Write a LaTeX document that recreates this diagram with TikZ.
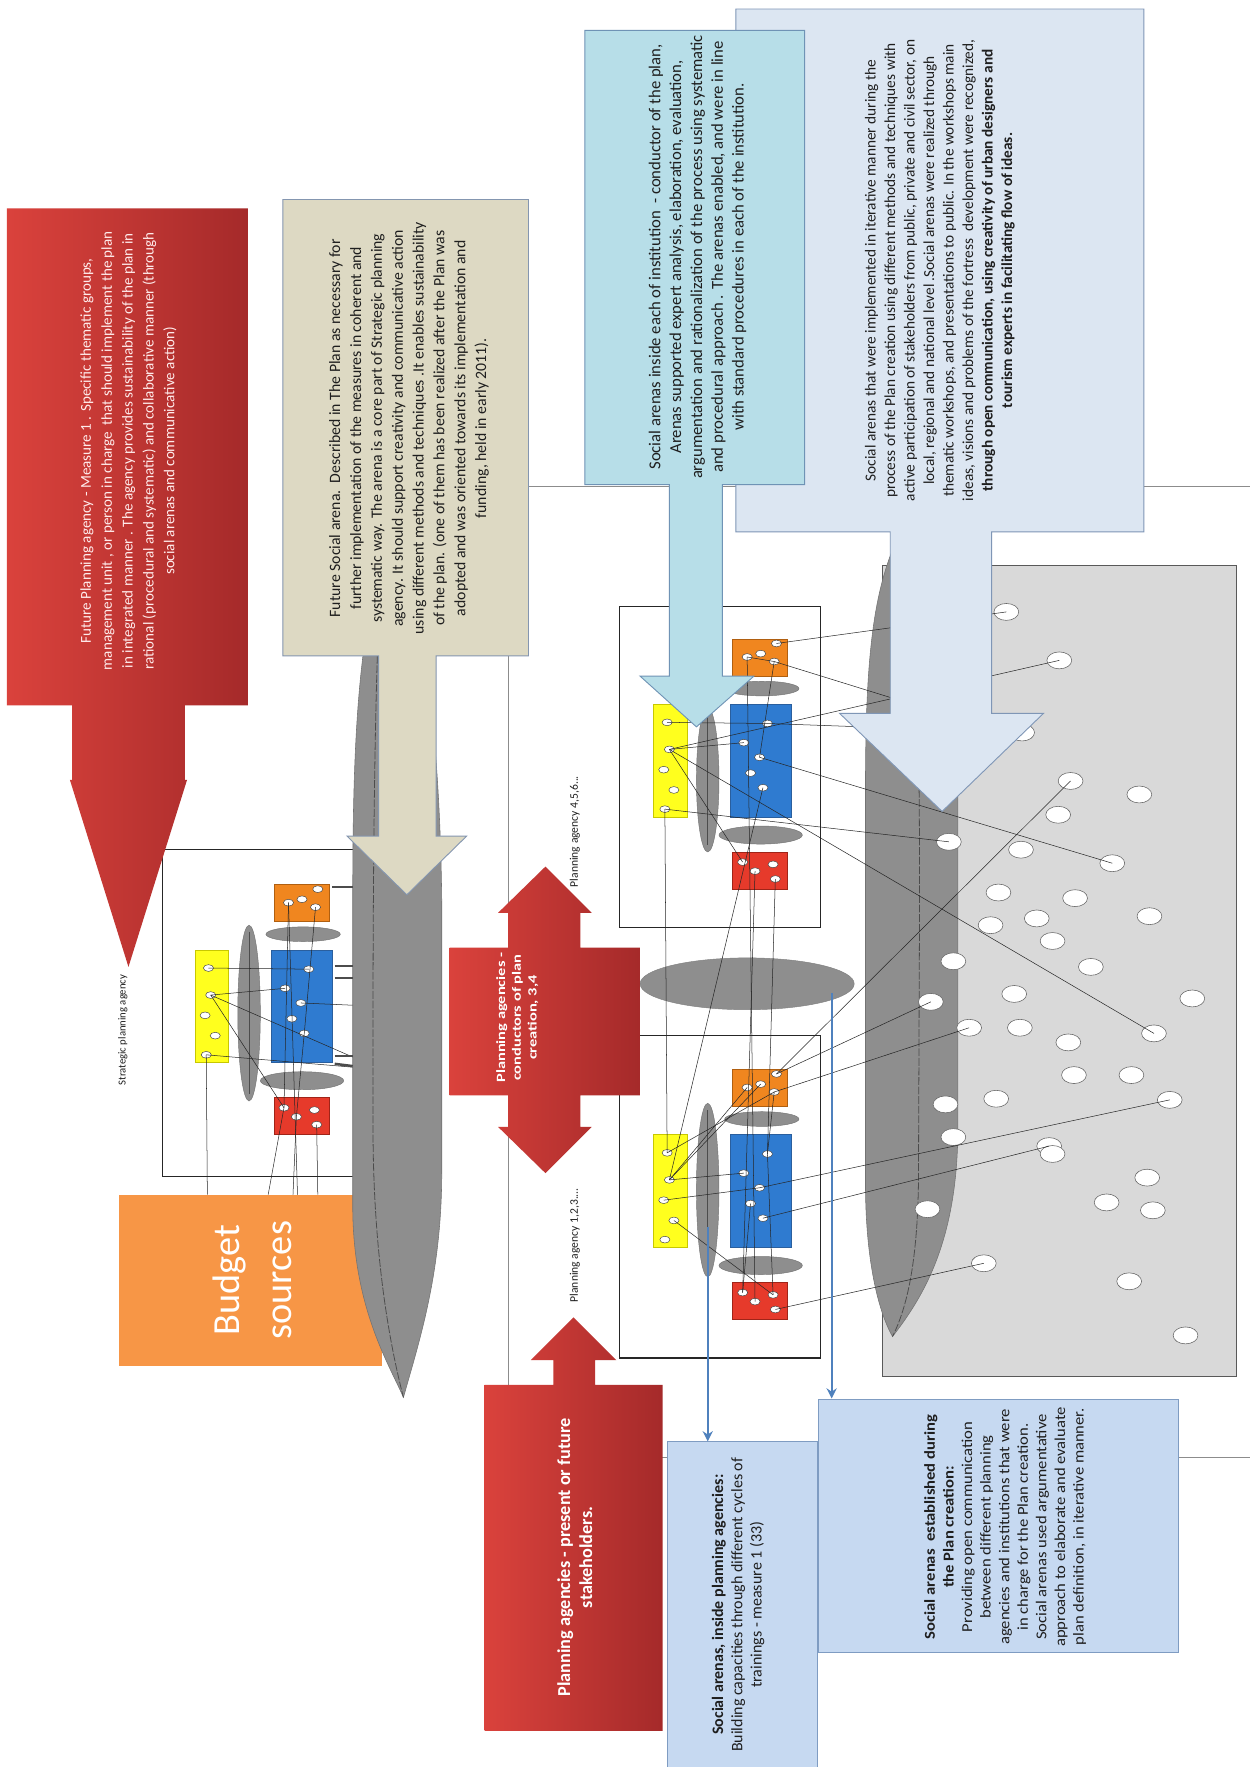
\documentclass[tikz,border=0pt]{standalone}
\usepackage{fontspec}
\setmainfont{Carlito}
\newfontfamily\widefont[FakeStretch=1.1]{Carlito}
\newfontfamily\widerfont[FakeStretch=1.3]{Carlito}
\usetikzlibrary{shapes.geometric,arrows.meta}

\definecolor{redL}{HTML}{DA423C}
\definecolor{redR}{HTML}{A52A2A}
\definecolor{beigeFill}{HTML}{DDD9C3}
\definecolor{beigeEdge}{HTML}{8496B0}
\definecolor{cyanFill}{HTML}{B7DEE8}
\definecolor{cyanEdge}{HTML}{6F93B5}
\definecolor{paleFill}{HTML}{DCE6F2}
\definecolor{paleEdge}{HTML}{7F96B6}
\definecolor{boxFill}{HTML}{C6D9F1}
\definecolor{boxEdge}{HTML}{7F9CC2}
\definecolor{budgetOrange}{HTML}{F79646}
\definecolor{unitYellow}{HTML}{FFFF1E}
\definecolor{yellowEdge}{HTML}{C8C800}
\definecolor{unitBlue}{HTML}{2F7BD0}
\definecolor{blueEdge}{HTML}{2A5F9E}
\definecolor{unitOrange}{HTML}{F0861F}
\definecolor{orangeEdge}{HTML}{B05F10}
\definecolor{unitRed}{HTML}{E63A2B}
\definecolor{redEdge}{HTML}{A02418}
\definecolor{arenaGrey}{HTML}{8E8E8E}
\definecolor{fieldGrey}{HTML}{D9D9D9}
\definecolor{arrowBlue}{HTML}{4F81BD}
\definecolor{ink}{HTML}{1E1E1E}

\tikzset{
  unitdot/.style={ellipse, draw=black!75, fill=white, line width=0.4pt,
    minimum width=9pt, minimum height=6pt, inner sep=0pt},
  fieldspot/.style={ellipse, draw=black!60, fill=white, line width=0.5pt,
    minimum width=22pt, minimum height=15pt, inner sep=0pt},
  wire/.style={black!85, line width=0.45pt},
  stub/.style={black!70, line width=2.2pt},
  framerule/.style={draw=black!45, line width=0.7pt},
  unitframe/.style={draw=black!85, line width=1.1pt},
  vtext/.style={rotate=90, align=center, inner sep=0pt, text=ink},
  feed/.style={arrowBlue, line width=2pt, -{Stealth[length=9pt, width=9pt]}},
  lens/.style={fill=arenaGrey, draw=black!55, line width=0.4pt},
}

% one planning unit: prefix, x, y of the yellow block, lens centre offset, lens half height
\newcommand{\planunit}[5]{%
\begin{scope}[shift={(#2,#3)}]
  \filldraw[lens] (48,#4) ellipse [x radius=10, y radius=#5];
  \draw[black!70, line width=0.8pt] (48,#4-#5+6) -- (48,#4+#5-6);
  \filldraw[lens] (96,-14) ellipse [x radius=33, y radius=6.5];
  \filldraw[lens] (95,116) ellipse [x radius=37, y radius=8];
  \filldraw[fill=unitYellow, draw=yellowEdge, line width=0.6pt] (0,0) rectangle (30,100);
  \filldraw[fill=unitBlue, draw=blueEdge, line width=0.6pt] (68,0) rectangle (122,100);
  \filldraw[fill=unitOrange, draw=orangeEdge, line width=0.6pt] (70,-58) rectangle (119,-25);
  \filldraw[fill=unitRed, draw=redEdge, line width=0.6pt] (70,131) rectangle (119,164);
  \node[unitdot] (#1-y1) at (12,16) {};
  \node[unitdot] (#1-y2) at (14,40) {};
  \node[unitdot] (#1-y3) at (9,58) {};
  \node[unitdot] (#1-y4) at (18,76) {};
  \node[unitdot] (#1-y5) at (10,93) {};
  \node[unitdot] (#1-b1) at (101,17) {};
  \node[unitdot] (#1-b2) at (80,34) {};
  \node[unitdot] (#1-b3) at (94,47) {};
  \node[unitdot] (#1-b4) at (86,61) {};
  \node[unitdot] (#1-b5) at (97,74) {};
  \node[unitdot] (#1-o1) at (83,-42) {};
  \node[unitdot] (#1-o2) at (95,-45) {};
  \node[unitdot] (#1-o3) at (107,-38) {};
  \node[unitdot] (#1-o4) at (109,-54) {};
  \node[unitdot] (#1-r1) at (79,140) {};
  \node[unitdot] (#1-r2) at (90,148) {};
  \node[unitdot] (#1-r3) at (106,142) {};
  \node[unitdot] (#1-r4) at (108,155) {};
\end{scope}}

\begin{document}
\begin{tikzpicture}[x=1pt,y=-1pt]
\useasboundingbox (0,0) rectangle (1109,1568);
\fill[white] (0,0) rectangle (1109,1568);

% section frame behind everything
\draw[framerule] (1115,432) -| (451,1293) -- (1115,1293);

% field of stakeholders
\filldraw[fill=fieldGrey, draw=black!65, line width=0.8pt] (783,502) rectangle (1097,1221);

% social arena of the plan creation
\filldraw[fill=arenaGrey, draw=black!55, line width=0.5pt]
  (800,470) .. controls (775,520) and (768,580) .. (768,700) -- (768,1050)
  .. controls (768,1120) and (780,1165) .. (792,1186)
  .. controls (820,1150) and (850,1100) .. (850,1000) -- (850,700)
  .. controls (850,580) and (830,500) .. (800,470) -- cycle;
\draw[black!70, line width=0.7pt, dash pattern=on 7pt off 1.5pt]
  (806,480) .. controls (814,560) and (816,650) .. (816,800) -- (815,1050)
  .. controls (814,1120) and (805,1160) .. (792,1186);

\foreach \n/\px/\py in {1/893/543, 2/940/586, 3/907/650, 4/950/693, 5/1011/705,
  6/939/723, 7/842/747, 8/906/754, 9/987/766, 10/886/792, 11/954/797,
  12/1020/813, 13/879/821, 14/920/815, 15/934/835, 16/846/853, 17/968/858,
  18/900/882, 19/1058/886, 20/826/889, 21/860/912, 22/905/912, 23/948/925,
  24/1024/917, 25/953/954, 26/1004/954, 27/884/975, 28/839/980, 29/1038/976,
  30/846/1009, 31/931/1017, 32/934/1024, 33/1018/1045, 34/982/1067,
  35/1023/1074, 36/823/1073, 37/873/1121, 38/1002/1137, 39/1052/1185}
  \node[fieldspot] (e\n) at (\px,\py) {};

% strategic planning agency
\draw[unitframe] (144,754) rectangle (317,1044);
\planunit{s}{173}{843}{56}{78}

% budget sources
\fill[budgetOrange] (106,1060) rectangle (339,1212);
\coordinate (bt1) at (184,1060);
\coordinate (bt2) at (238,1060);
\coordinate (bt3) at (260,1060);
\coordinate (bt4) at (264,1060);
\coordinate (bt5) at (282,1060);
\draw[wire] (s-y5.center) -- (bt1);
\draw[wire] (s-r1.center) -- (bt2);
\draw[wire] (s-r2.center) -- (bt3);
\draw[wire] (s-o1.center) -- (bt4);
\draw[wire] (s-r4.center) -- (bt5);
\node[vtext, text=white, font=\fontsize{34}{46}\selectfont] (budget) at (224,1136) {Budget\\sources};

% future social arena
\filldraw[fill=arenaGrey, draw=black!55, line width=0.5pt]
  (345,470) .. controls (318,560) and (313,650) .. (313,800) -- (313,1070)
  .. controls (313,1160) and (345,1210) .. (358,1240)
  .. controls (372,1190) and (392,1130) .. (392,1040) -- (392,800)
  .. controls (390,640) and (375,540) .. (345,470) -- cycle;
\draw[black!70, line width=0.7pt, dash pattern=on 7pt off 1.5pt]
  (340,480) .. controls (330,600) and (331,900) .. (331,1000)
  .. controls (331,1110) and (345,1190) .. (358,1240);

% links of the strategic agency
\coordinate (sa1) at (313,892);
\coordinate (sa2) at (313,938);
\coordinate (sa3) at (313,947);
\draw[wire] (s-y1.center) -- (s-b1.center);
\draw[wire] (s-y2.center) -- (s-b2.center);
\draw[wire] (s-y2.center) -- (s-r1.center);
\draw[wire] (s-y2.center) -- (sa2);
\draw[wire] (s-y5.center) -- (sa3);
\draw[wire] (s-b3.center) -- (sa1);
\draw[wire] (s-o1.center) -- (s-r1.center);
\draw[wire] (s-o3.center) -- (s-b5.center);
\draw[wire] (s-b5.center) -- (s-r2.center);
\draw[stub] (295,787) -- (313,787);
\draw[stub] (297,857) -- (313,857);
\draw[stub] (297,868) -- (313,868);
\draw[stub] (297,937) -- (313,937);
\draw[stub] (297,944) -- (313,946);

% future social arena callout
\filldraw[fill=beigeFill, draw=beigeEdge, line width=0.8pt]
  (251,177) -- (469,177) -- (469,582) -- (387,582) -- (387,742) -- (414,742)
  -- (361,794) -- (308,742) -- (336,742) -- (336,582) -- (251,582) -- cycle;
\node[vtext, font=\fontsize{14}{18.5}\selectfont] (futarena) at (363,380) {%
Future Social arena.\ \ Described in The Plan as necessary for\\
further implementation of the measures in coherent and\\
systematic way. The arena is a core part of Strategic planning\\
agency. It should support creativity and communicative action\\
using different methods and techniques .It enables sustainability\\
of the plan. (one of them has been realized after the Plan was\\
adopted and was oriented towards its implementation and\\
funding, held in early 2011).};

% planning agencies 1,2,3... and 4,5,6...
\filldraw[fill=arenaGrey, draw=black!50, line width=0.4pt] (663,873) ellipse [x radius=95, y radius=23];
\draw[unitframe] (550,538) rectangle (728,823);
\draw[unitframe] (550,919) rectangle (728,1205);
\planunit{u}{580}{625}{67}{64}
\planunit{l}{580}{1007}{49}{77}

\coordinate (sq1) at (800,622);
\draw[wire] (u-y1.center) -- (u-b1.center);
\draw[wire] (u-y2.center) -- (u-b2.center);
\draw[wire] (u-y2.center) -- (u-r1.center);
\draw[wire] (u-y2.center) -- (e2.center);
\draw[wire] (u-y2.center) -- (e24.center);
\draw[wire] (u-y5.center) -- (e7.center);
\draw[wire] (u-y5.center) -- (l-y1.center);
\draw[wire] (u-o1.center) -- (u-o3.center);
\draw[wire] (u-o3.center) -- (u-b3.center);
\draw[wire] (u-o3.center) -- (sq1);
\draw[wire] (u-o4.center) -- (e1.center);
\draw[wire] (u-b1.center) -- (e3.center);
\draw[wire] (u-b3.center) -- (e9.center);
\draw[wire] (u-b5.center) -- (l-y2.center);
\draw[wire] (u-o1.center) -- (l-r2.center);
\draw[wire] (u-r2.center) -- (l-r1.center);
\draw[wire] (u-r4.center) -- (l-b1.center);
\draw[wire] (l-y2.center) -- (l-o1.center);
\draw[wire] (l-y2.center) -- (l-o2.center);
\draw[wire] (l-y1.center) -- (l-o3.center);
\draw[wire] (l-y2.center) -- (l-b2.center);
\draw[wire] (l-y3.center) -- (l-b3.center);
\draw[wire] (l-y4.center) -- (l-r3.center);
\draw[wire] (l-b4.center) -- (l-r1.center);
\draw[wire] (l-b1.center) -- (l-o3.center);
\draw[wire] (l-b1.center) -- (l-r3.center);
\draw[wire] (l-o4.center) -- (e4.center);
\draw[wire] (l-o4.center) -- (e20.center);
\draw[wire] (l-o3.center) -- (e21.center);
\draw[wire] (l-b3.center) -- (e29.center);
\draw[wire] (l-b5.center) -- (e31.center);
\draw[wire] (l-r4.center) -- (e37.center);

\node[vtext, font=\fontsize{10.3}{12}\selectfont] (pa456) at (510,738) {Planning agency 4,5,6...};
\node[vtext, font=\fontsize{10.3}{12}\selectfont] (pa123) at (510,1105) {Planning agency 1,2,3....};
\node[vtext, font=\fontsize{9.5}{12}\selectfont] (spa) at (109,914) {Strategic planning agency};

% blue pointers to the two kinds of arenas
\coordinate (fa) at (628,1089);
\coordinate (ga) at (738,881);

% conductors of plan creation
\shade[left color=redL, right color=redR]
  (399,841) -- (451,841) -- (451,810) -- (442,810) -- (484,769) -- (525,810)
  -- (515,810) -- (515,841) -- (568,841) -- (568,972) -- (515,972) -- (515,1000)
  -- (525,1000) -- (484,1041) -- (442,1000) -- (451,1000) -- (451,972)
  -- (399,972) -- cycle;
\node[vtext, text=white, font=\widerfont\fontsize{11.2}{14}\selectfont\bfseries] (cond) at (459,903)
  {Planning agencies -\\conductors of plan\\creation, 3,4};

% arenas of the plan creation callout
\filldraw[fill=paleFill, draw=paleEdge, line width=0.8pt]
  (653,8) -- (1015,8) -- (1015,472) -- (880,472) -- (880,633) -- (926,633)
  -- (836,720) -- (745,633) -- (790,633) -- (790,472) -- (653,472) -- cycle;
\node[vtext, font=\fontsize{13.6}{17.3}\selectfont] (iter) at (834,240) {%
Social arenas that were implemented in iterative manner during the\\
process of the Plan creation using different methods and techniques with\\
active participation of stakeholders from public, private and civil sector, on\\
local, regional and national level .Social arenas were realized through\\
thematic workshops, and presentations to public. In the workshops main\\
ideas, visions and problems of the fortress\ \ development were recognized,\\
\textbf{through open communication, using creativity of urban designers and}\\
\textbf{tourism experts in facilitating flow of ideas.}};

% arenas inside institutions callout
\filldraw[fill=cyanFill, draw=cyanEdge, line width=0.8pt]
  (519,27) -- (714,27) -- (714,430) -- (641,430) -- (641,600) -- (669,600)
  -- (618,645) -- (568,600) -- (594,600) -- (594,430) -- (519,430) -- cycle;
\node[vtext, font=\fontsize{14.8}{18.5}\selectfont] (inst) at (619,228) {%
Social arenas inside each of institution\ \ - conductor of the plan,\\
Arenas supported expert analysis, elaboration, evaluation,\\
argumentation and rationalization of the process using systematic\\
and procedural approach . The arenas enabled, and were in line\\
with standard procedures in each of the institution.};

% future planning agency callout
\shade[left color=redL, right color=redR]
  (6,185) -- (220,185) -- (220,626) -- (164,626) -- (164,692) -- (166,692)
  -- (114,858) -- (62,692) -- (64,692) -- (64,626) -- (6,626) -- cycle;
\node[vtext, text=white!92!red, font=\fontsize{13.4}{18.5}\selectfont] (future) at (114,400) {%
Future Planning agency - Measure 1 . Specific thematic groups,\\
management unit , or person in charge\ \ that should implement the plan\\
in integrated manner . The agency provides sustainability of the plan in\\
rational (procedural and systematic) and collaborative manner (through\\
social arenas and communicative action)};

% stakeholders callout
\shade[left color=redL, right color=redR]
  (430,1536) -- (588,1536) -- (588,1229) -- (528,1229) -- (528,1207)
  -- (547,1207) -- (509,1169) -- (471,1207) -- (491,1207) -- (491,1229)
  -- (430,1229) -- cycle;
\node[vtext, text=white, font=\fontsize{16.2}{19.5}\selectfont\bfseries] (stake) at (510,1382)
  {Planning agencies - present or future\\stakeholders.};

% the two kinds of social arenas
\node[draw=boxEdge, fill=boxFill, line width=0.8pt, minimum width=133pt,
  minimum height=300pt, inner sep=0pt, anchor=north west] (boxF) at (592,1279) {};
\node[draw=boxEdge, fill=boxFill, line width=0.8pt, minimum width=319pt,
  minimum height=225pt, inner sep=0pt, anchor=north west] (boxG) at (726,1241) {};
\draw[feed] (fa) -- (fa |- boxF.north);
\draw[feed] (ga) -- (ga |- boxG.north);

\node[vtext, font=\fontsize{14.2}{17}\selectfont] (inside) at (655,1424) {%
\textbf{Social arenas, inside planning agencies:}\\
Building capacities through different cycles of\\
trainings - measure 1 (33)};

\node[vtext, font=\widefont\fontsize{13.4}{16.5}\selectfont] (during) at (892,1355) {%
\textbf{Social arenas\ \ established during}\\
\textbf{the Plan creation:}\\
Providing open communication\\
between different planning\\
agencies and institutions that were\\
in charge for the Plan creation.\\
Social arenas used argumentative\\
approach to elaborate and evaluate\\
plan definition, in iterative manner.};

\end{tikzpicture}
\end{document}
